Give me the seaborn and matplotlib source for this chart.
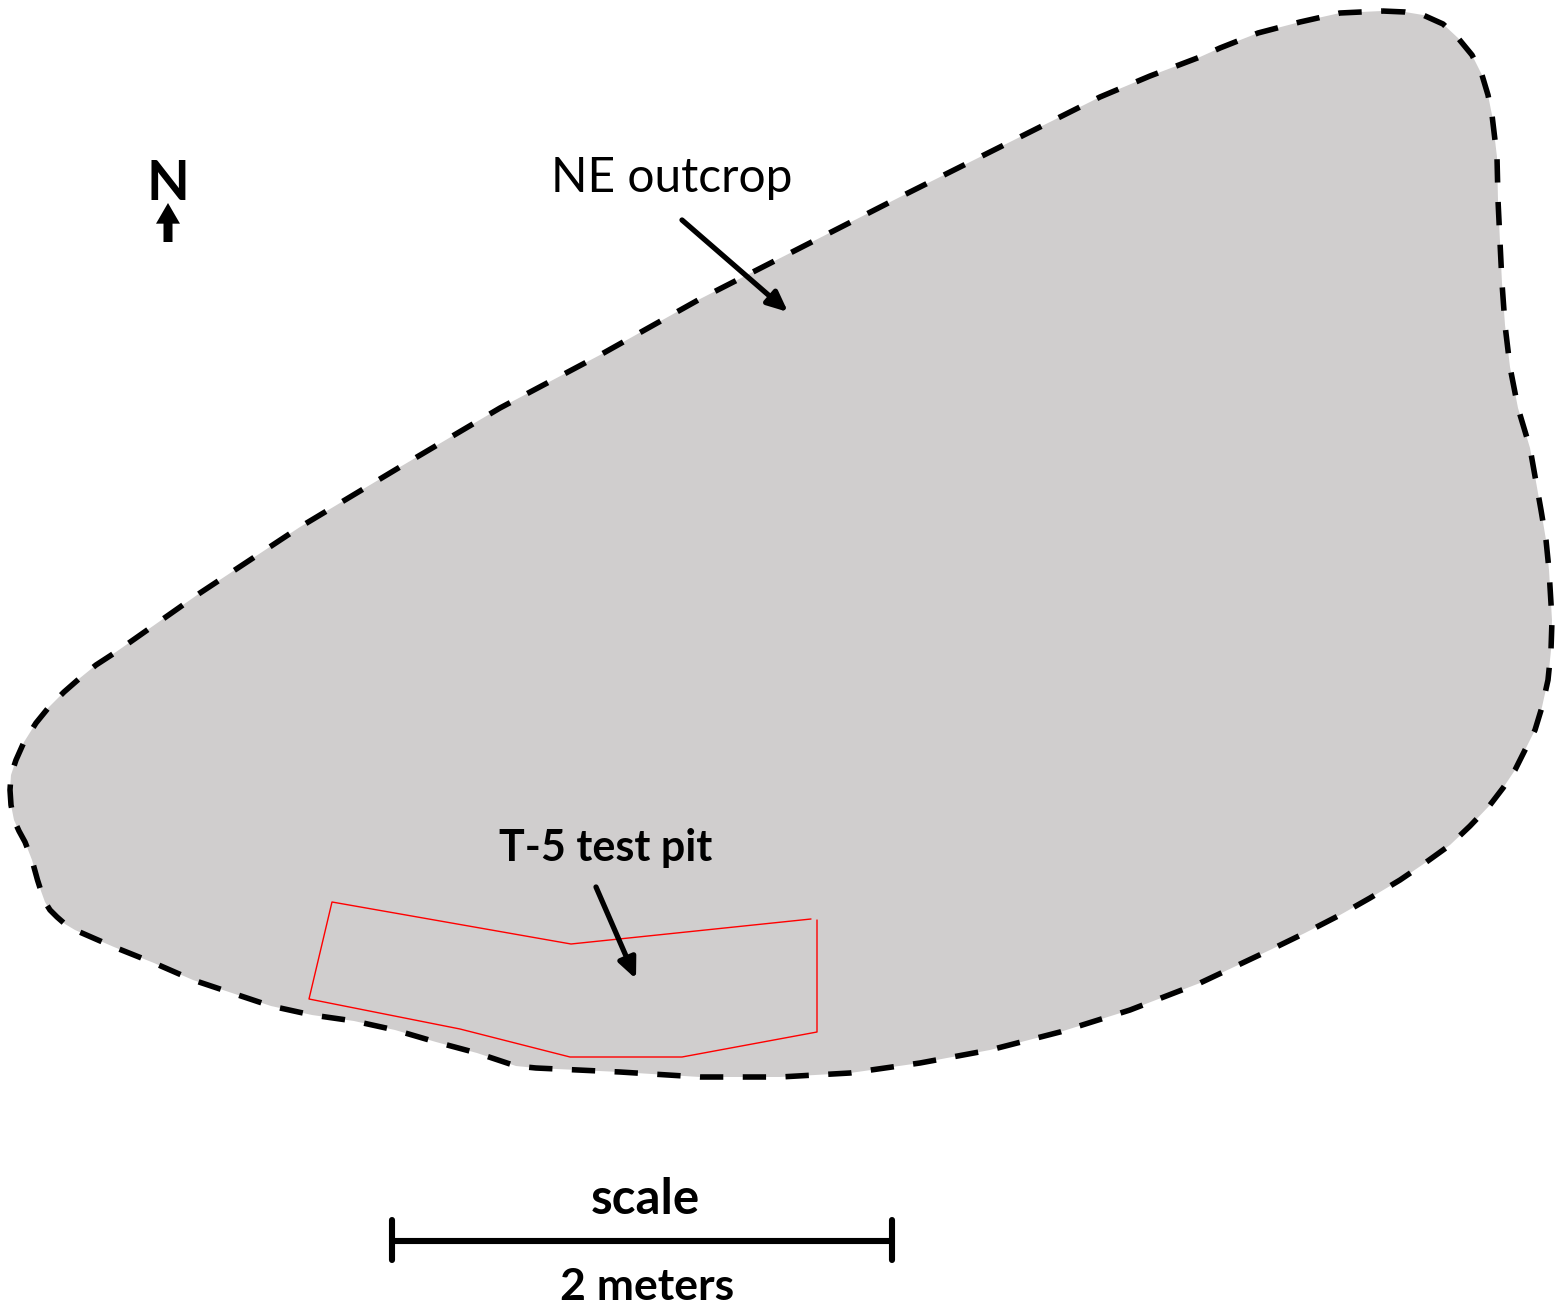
import matplotlib
matplotlib.use("Agg")
import matplotlib.pyplot as plt
import seaborn as sns

sns.set_theme(style="white")
plt.rcParams['font.family'] = ['Lato', 'DejaVu Sans']

# outcrop outline (pixels, clockwise from the top)
outline_x = [1382, 1405, 1423, 1443, 1458, 1472, 1482, 1488, 1492, 1497, 1498, 1500, 1502, 1505, 1510,
             1518, 1530, 1541, 1546, 1549, 1552, 1551, 1548, 1542, 1535, 1525, 1515, 1503, 1490,
             1470, 1450, 1425, 1400, 1370, 1340, 1305, 1270, 1200, 1130,
             1060, 990, 920, 850, 780, 700, 620, 536, 516, 477, 436, 395, 354, 312, 271,
             232, 193, 154, 114, 75, 65, 57, 50, 45, 41, 37.5, 32, 25, 19, 14, 11, 10, 11, 16, 24, 36,
             49, 64, 80, 96, 116,
             200, 300, 400, 500, 600, 700, 800, 900, 1000, 1050, 1100, 1150, 1200, 1220, 1258, 1300,
             1340, 1382]
outline_y = [11, 12, 15, 24, 38, 55, 75, 95, 115, 157, 200, 242, 283, 325, 367,
             408, 448, 510, 540, 570, 620, 650, 680, 707, 730, 750, 770, 788, 805,
             826, 845, 863, 880, 898, 915, 933, 950, 983, 1010,
             1032, 1050, 1063, 1073, 1077, 1077, 1072, 1068, 1066, 1053, 1042, 1030, 1021, 1015, 1006,
             993, 980, 963, 947, 930, 924, 917, 910, 902, 891, 880, 860, 842, 831, 820, 805, 790, 775, 760, 742, 723,
             707, 692, 678, 665, 652,
             593, 527, 467, 408, 355, 299, 248, 197, 147, 122, 97, 76, 57, 48, 33, 22,
             13, 11]

# test pit trace, the line is open at the NE corner
pit_x = [817, 817, 682, 570, 460, 309, 332, 571, 811]
pit_y = [920, 1032, 1057, 1057, 1029, 999, 902, 944, 919]

scale_x = [392, 892]
scale_y = [1241, 1241]
scale_tick_y = [1220, 1260]

fig = plt.figure(figsize=(15.61, 13.09), dpi=100)
ax = fig.add_axes([0, 0, 1, 1])

ax.fill(outline_x, outline_y, color="#D0CECE", lw=0)
sns.lineplot(x=outline_x, y=outline_y, sort=False, estimator=None, color="black",
             linewidth=4.0, linestyle=(0, (4.2, 3.5)), dash_capstyle="butt", ax=ax)
sns.lineplot(x=pit_x, y=pit_y, sort=False, estimator=None, color="#FF0000", linewidth=1.0, ax=ax)

sns.lineplot(x=scale_x, y=scale_y, sort=False, estimator=None, color="black", linewidth=4.4, ax=ax)
for sx in scale_x:
    sns.lineplot(x=[sx, sx], y=scale_tick_y, sort=False, estimator=None, color="black",
                 linewidth=4.4, ax=ax)

arrow = dict(arrowstyle="-|>,head_length=1.0,head_width=0.45", color="black", lw=3.8,
             shrinkA=0, shrinkB=0)
ax.annotate("", xy=(788, 312), xytext=(682, 220), arrowprops=arrow)
ax.annotate("", xy=(636, 979), xytext=(596, 887), arrowprops=arrow)
ax.annotate("", xy=(168, 203), xytext=(168, 242),
            arrowprops=dict(arrowstyle="simple,head_length=0.62,tail_width=0.27,head_width=0.72",
                            color="black", lw=0, shrinkA=0, shrinkB=0, mutation_scale=24))

ax.text(672, 178, "NE outcrop", fontsize=34.5, ha="center", va="center", color="black")
ax.text(606, 848, "T-5 test pit", fontsize=31, fontweight="bold", ha="center", va="center", color="black")
ax.text(168, 184, "N", fontsize=40, fontweight="bold", ha="center", va="center", color="black")
ax.text(645, 1199, "scale", fontsize=35.5, fontweight="bold", ha="center", va="center", color="black")
ax.text(647, 1287, "2 meters", fontsize=32, fontweight="bold", ha="center", va="center", color="black")

ax.set_xlim(0, 1561)
ax.set_ylim(1309, 0)
ax.axis("off")

fig.savefig("out.png", dpi=100)
